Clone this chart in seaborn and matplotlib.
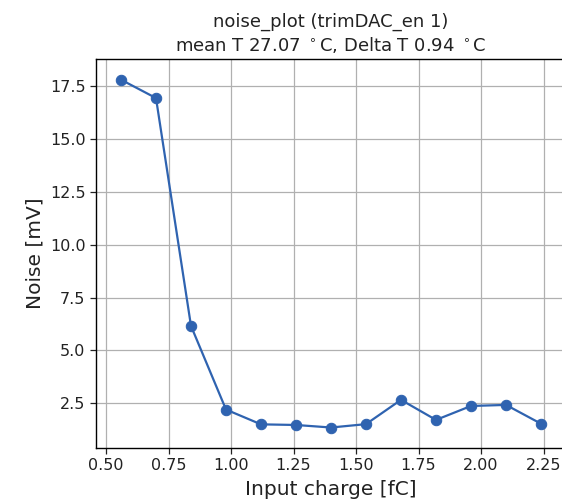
import matplotlib
matplotlib.use("Agg")
import matplotlib.pyplot as plt
import seaborn as sns
import pandas as pd

charge = [0.56, 0.70, 0.84, 0.98, 1.12, 1.26, 1.40, 1.54, 1.68, 1.82, 1.96, 2.10, 2.24]
noise = [17.82, 16.95, 6.16, 2.20, 1.50, 1.47, 1.35, 1.51, 2.66, 1.71, 2.37, 2.42, 1.53]
xticks = [0.50, 0.75, 1.00, 1.25, 1.50, 1.75, 2.00, 2.25]
yticks = [2.5, 5.0, 7.5, 10.0, 12.5, 15.0, 17.5]

sns.set_style("ticks")
plt.rcParams['font.family'] = ['DejaVu Sans']
plt.rcParams['text.color'] = '#222222'
plt.rcParams['axes.labelcolor'] = '#222222'

df = pd.DataFrame({"charge": charge, "noise": noise})

fig = plt.figure(figsize=(5.62, 5.01), dpi=100)
ax = fig.add_axes([96/562, 1 - 448/501, (566 - 96)/562, (448 - 59)/501])
color = "#2f63b0"
sns.lineplot(data=df, x="charge", y="noise", marker="o", markersize=7.5,
             color=color, markeredgecolor=color, linewidth=1.6, ax=ax)
ax.set_xlim(0.46, 2.34)
ax.set_ylim(0.38, 18.8)
ax.set_xticks(xticks)
ax.set_xticklabels([f"{v:.2f}" for v in xticks])
ax.set_yticks(yticks)
ax.set_yticklabels([f"{v:.1f}" for v in yticks])
ax.grid(True, color="#b0b0b0", linewidth=0.9)
ax.tick_params(labelsize=11.5, length=4, width=0.9, colors="#222222")
for s in ax.spines.values():
    s.set_linewidth(1.0)
    s.set_color("black")
ax.set_xlabel("Input charge [fC]", fontsize=14.5, labelpad=5)
ax.set_ylabel("Noise [mV]", fontsize=14.5)
ax.set_title("noise_plot (trimDAC_en 1)\nmean T 27.07 $^\\circ$C, Delta T 0.94 $^\\circ$C",
             fontsize=13, pad=6)
fig.savefig("out.png", dpi=100)
